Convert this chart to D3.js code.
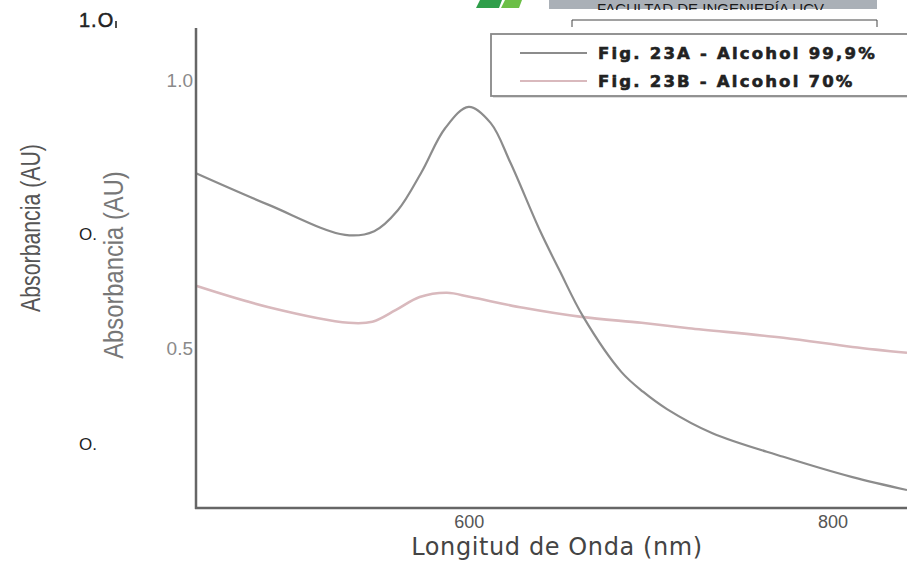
<!DOCTYPE html>
<html>
<head>
<meta charset="utf-8">
<script src="https://cdn.jsdelivr.net/npm/d3@7"></script>
<style>
  body { margin: 0; background: #fff; }
  svg { display: block; }
</style>
</head>
<body>
<div id="graph_draw"></div>
<script>
// data (wavelength in nm, absorbance in AU)
var wavelengthA = [450, 490, 532, 548, 561, 574, 587, 600, 612, 623, 639, 650, 663, 684, 696, 709, 734, 773, 811, 841];
var absorbA     = [0.826, 0.767, 0.711, 0.718, 0.757, 0.828, 0.910, 0.950, 0.920, 0.845, 0.720, 0.644, 0.558, 0.455, 0.418, 0.386, 0.341, 0.297, 0.259, 0.235];

var wavelengthB = [450, 490, 534, 547, 560, 573, 588, 601, 630, 662, 695, 721, 773, 811, 841];
var absorbB     = [0.616, 0.576, 0.547, 0.549, 0.571, 0.595, 0.603, 0.595, 0.575, 0.558, 0.547, 0.537, 0.519, 0.502, 0.491];

var xTicks = [600, 800];
var yTicks = [0.5, 1.0];
var seriesNames = ["Fig. 23A - Alcohol 99,9%", "Fig. 23B - Alcohol 70%"];
var seriesColors = ["#8c8c8c", "#d9b9bd"];

var width = 907, height = 563;

var svg = d3.select("#graph_draw").append("svg")
    .attr("width", width)
    .attr("height", height);

// scales
var x = d3.scaleLinear().domain([450, 841]).range([196, 907]);
var y = d3.scaleLinear().domain([0.5, 1.0]).range([348, 80]);

// header logo bits (cut off at the top of the picture)
svg.append("polygon").attr("points", "480,0 502,0 499,8 476,8").attr("fill", "#2f9e4a");
svg.append("polygon").attr("points", "505,0 522,0 519,8 501,8").attr("fill", "#6cbf47");
svg.append("clipPath").attr("id", "barclip")
  .append("rect").attr("x", 549).attr("y", 0).attr("width", 328).attr("height", 10);
svg.append("rect").attr("x", 549).attr("y", 0).attr("width", 328).attr("height", 9).attr("fill", "#aab0b7");
svg.append("text").attr("x", 597).attr("y", 14)
    .attr("clip-path", "url(#barclip)")
    .style("font-family", "Liberation Sans, Arial, sans-serif")
    .style("font-size", "15px").style("fill", "#1a1a1a")
    .text("FACULTAD DE INGENIERÍA UCV");
svg.append("path").attr("d", "M572,27V20H877V27")
    .attr("fill", "none").attr("stroke", "#444").attr("stroke-width", 1);

// stray labels of the underlying figure
var stray = svg.append("g")
    .style("font-family", "Liberation Sans, Arial, sans-serif")
    .style("fill", "#222");
stray.append("text").attr("x", 79).attr("y", 27).style("font-size", "20px")
    .style("stroke", "#222").style("stroke-width", "0.5px")
    .style("letter-spacing", "1px").text("1.O");
stray.append("line").attr("x1", 116).attr("x2", 116).attr("y1", 21).attr("y2", 28)
    .attr("stroke", "#222").attr("stroke-width", 1.6);
stray.append("text").attr("x", 79).attr("y", 240).style("font-size", "17px").text("O.");
stray.append("text").attr("x", 79).attr("y", 450).style("font-size", "17px").text("O.");

svg.append("text")
    .attr("transform", "translate(40,228) rotate(-90) scale(0.76,1)")
    .attr("text-anchor", "middle")
    .style("font-family", "Liberation Sans, Arial, sans-serif")
    .style("font-size", "28px").style("fill", "#555")
    .text("Absorbancia (AU)");

svg.append("text")
    .attr("transform", "translate(123,265) rotate(-90) scale(0.88,1)")
    .attr("text-anchor", "middle")
    .style("font-family", "Liberation Sans, Arial, sans-serif")
    .style("font-size", "27px").style("fill", "#777")
    .text("Absorbancia (AU)");

// lines
var line = d3.line()
    .x(function(d) { return x(d[0]); })
    .y(function(d) { return y(d[1]); })
    .curve(d3.curveCatmullRom.alpha(0.5));

var plot = svg.append("g");
plot.append("path")
    .datum(d3.zip(wavelengthB, absorbB))
    .attr("fill", "none").attr("stroke", seriesColors[1]).attr("stroke-width", 2.6)
    .attr("d", line);
plot.append("path")
    .datum(d3.zip(wavelengthA, absorbA))
    .attr("fill", "none").attr("stroke", seriesColors[0]).attr("stroke-width", 2.2)
    .attr("d", line);

// Y axis
var yAxis = svg.append("g")
    .attr("transform", "translate(196,0)")
    .call(d3.axisLeft(y).tickValues(yTicks).tickSize(0).tickPadding(3).tickFormat(d3.format(".1f")));
yAxis.select(".domain").remove();
yAxis.selectAll("text")
    .style("font-family", "Liberation Sans, Arial, sans-serif")
    .style("font-size", "19px").style("fill", "#8a8a8a");
svg.append("line").attr("x1", 196).attr("x2", 196).attr("y1", 28).attr("y2", 509)
    .attr("stroke", "#666").attr("stroke-width", 2.5);

// X axis
var xAxis = svg.append("g")
    .attr("transform", "translate(0,508)")
    .call(d3.axisBottom(x).tickValues(xTicks).tickSize(0).tickPadding(7));
xAxis.select(".domain").remove();
xAxis.selectAll("text")
    .style("font-family", "Liberation Sans, Arial, sans-serif")
    .style("font-size", "18px").style("fill", "#555");
svg.append("line").attr("x1", 195).attr("x2", 907).attr("y1", 508).attr("y2", 508)
    .attr("stroke", "#666").attr("stroke-width", 2.5);

svg.append("text")
    .attr("x", 557).attr("y", 555)
    .attr("text-anchor", "middle")
    .style("font-family", "DejaVu Sans, sans-serif")
    .style("font-size", "24px").style("letter-spacing", "0.6px").style("fill", "#444")
    .text("Longitud de Onda (nm)");

// legend
var legend = svg.append("g");
legend.append("rect").attr("x", 493).attr("y", 36).attr("width", 430).attr("height", 62)
    .attr("fill", "#ddd");
legend.append("rect").attr("x", 491).attr("y", 34).attr("width", 430).attr("height", 62)
    .attr("fill", "#fff").attr("stroke", "#888").attr("stroke-width", 1.8);
seriesNames.forEach(function(name, i) {
    var ly = 53 + i * 28;
    legend.append("line").attr("x1", 520).attr("x2", 587).attr("y1", ly).attr("y2", ly)
        .attr("stroke", seriesColors[i]).attr("stroke-width", 2);
    legend.append("text").attr("x", 598).attr("y", ly + 6)
        .style("font-family", "DejaVu Sans, sans-serif")
        .style("font-weight", "bold")
        .style("font-size", "16.5px")
        .style("letter-spacing", "2.2px")
        .style("fill", "#222")
        .style("stroke", "#222").style("stroke-width", "0.6px")
        .text(name);
});
</script>
</body>
</html>
